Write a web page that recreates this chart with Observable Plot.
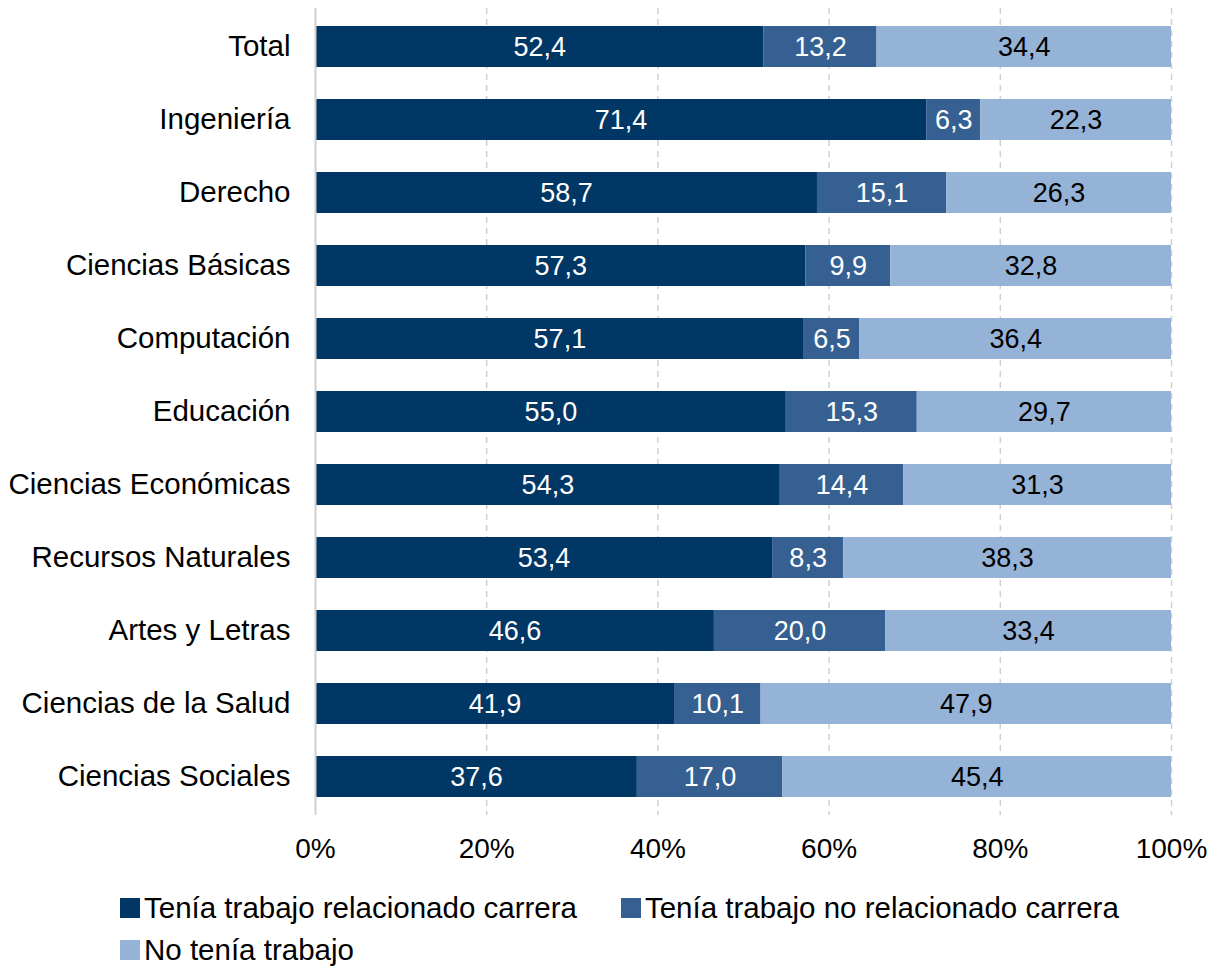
<!DOCTYPE html>
<html>
<head>
<meta charset="utf-8">
<script src="https://cdn.jsdelivr.net/npm/d3@7"></script>
<script src="https://cdn.jsdelivr.net/npm/@observablehq/plot@0.6"></script>
<style>
  body { margin: 0; background: #fff; font-family: "Liberation Sans", Arial, sans-serif; }
  #legend { display: flex; flex-wrap: wrap; padding-left: 120px; width: 1060px; margin-top: 7px; column-gap: 44px; }
  .item { display: flex; align-items: center; font-size: 29.5px; line-height: 42px; color: #000; }
  .sw { width: 20px; height: 20px; margin-right: 4px; }
</style>
</head>
<body>
<div id="chart"></div>
<div id="legend"></div>
<script>
const categories = ["Total","Ingeniería","Derecho","Ciencias Básicas","Computación","Educación","Ciencias Económicas","Recursos Naturales","Artes y Letras","Ciencias de la Salud","Ciencias Sociales"];
const series = ["Tenía trabajo relacionado carrera","Tenía trabajo no relacionado carrera","No tenía trabajo"];
const relacionado =    [52.4, 71.4, 58.7, 57.3, 57.1, 55.0, 54.3, 53.4, 46.6, 41.9, 37.6];
const noRelacionado =  [13.2,  6.3, 15.1,  9.9,  6.5, 15.3, 14.4,  8.3, 20.0, 10.1, 17.0];
const sinTrabajo =     [34.4, 22.3, 26.3, 32.8, 36.4, 29.7, 31.3, 38.3, 33.4, 47.9, 45.4];
const colors = ["#003764", "#376092", "#95b3d7"];
const textColors = ["#ffffff", "#ffffff", "#000000"];
const xTicks = [0, 0.2, 0.4, 0.6, 0.8, 1];

const seriesValues = [relacionado, noRelacionado, sinTrabajo];
const data = [];
categories.forEach((c, i) => {
  series.forEach((s, j) => {
    data.push({category: c, series: s, value: seriesValues[j][i], idx: j});
  });
});

const fmt = v => v.toFixed(1).replace(".", ",");

const chart = Plot.plot({
  width: 1218,
  height: 880,
  marginLeft: 315,
  marginRight: 47,
  marginTop: 8,
  marginBottom: 65,
  style: {fontFamily: "'Liberation Sans', Arial, sans-serif", fontSize: "28px", color: "#000", background: "#fff"},
  x: {domain: [0, 1], ticks: xTicks, tickFormat: d => Math.round(d * 100) + "%", label: null},
  y: {domain: categories, paddingInner: 0.44, paddingOuter: 0.225, label: null},
  color: {domain: series, range: colors},
  marks: [
    Plot.ruleX(xTicks.filter(d => d > 0), {stroke: "#d0d0d0", strokeWidth: 1.5, strokeDasharray: "6,5"}),
    Plot.barX(data, Plot.stackX({offset: "normalize", x: "value", y: "category", fill: "series", order: series})),
    Plot.ruleX([0], {stroke: "#d0d0d0", strokeWidth: 2}),
    Plot.text(data, Plot.stackX({offset: "normalize", x: "value", y: "category", z: "series", order: series,
      text: d => fmt(d.value), fill: d => textColors[d.idx], fontSize: 27})),
    Plot.axisX({ticks: xTicks, tickFormat: d => Math.round(d * 100) + "%", tickSize: 0, tickPadding: 23, fontSize: 28}),
    Plot.axisY({tickSize: 0, tickPadding: 25, fontSize: 29.5})
  ]
});
document.getElementById("chart").appendChild(chart);

const legend = document.getElementById("legend");
series.forEach((s, j) => {
  const it = document.createElement("div");
  it.className = "item";
  const sw = document.createElement("span");
  sw.className = "sw";
  sw.style.background = colors[j];
  const t = document.createElement("span");
  t.textContent = s;
  it.appendChild(sw);
  it.appendChild(t);
  legend.appendChild(it);
});
</script>
</body>
</html>
